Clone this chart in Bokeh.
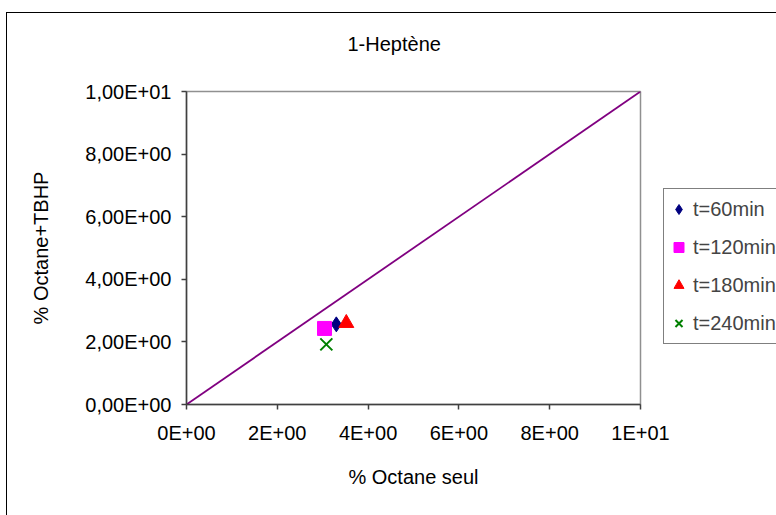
from bokeh.plotting import figure
from bokeh.models import FixedTicker, Legend, LegendItem, Range1d, Title
from bokeh.embed import file_html
from bokeh.resources import INLINE

# ---- data ----
series_names = ["t=60min", "t=120min", "t=180min", "t=240min"]
octane_seul = [3.30, 3.04, 3.52, 3.08]
octane_tbhp = [2.56, 2.43, 2.60, 1.92]
diag_x = [0, 10]
diag_y = [0, 10]
tick_values = [0, 2, 4, 6, 8, 10]
x_tick_labels = ["0E+00", "2E+00", "4E+00", "6E+00", "8E+00", "1E+01"]
y_tick_labels = ["0,00E+00", "2,00E+00", "4,00E+00", "6,00E+00", "8,00E+00", "1,00E+01"]
chart_title = "1-Heptène"

FONT = "Liberation Sans"
FS = "20px"

p = figure(frame_width=454, frame_height=313, title=None,
           min_border_left=179, min_border_top=78, min_border_right=136, min_border_bottom=111,
           x_range=Range1d(0, 10), y_range=Range1d(0, 10),
           output_backend="svg", toolbar_location=None)
p.styles = {"margin-left": "6px", "margin-top": "12px",
            "border-left": "1px solid black", "border-top": "1px solid black"}
p.background_fill_color = "white"
p.border_fill_color = "white"
p.outline_line_color = "#909090"
p.outline_line_width = 1.5
p.xgrid.visible = False
p.ygrid.visible = False

for ax in (p.xaxis[0], p.yaxis[0]):
    ax.ticker = FixedTicker(ticks=tick_values)
    ax.minor_tick_line_color = None
    ax.major_tick_in = 0
    ax.major_tick_out = 5
    ax.axis_line_color = "#404040"
    ax.axis_line_width = 1.5
    ax.major_tick_line_color = "#404040"
    ax.major_tick_line_width = 1.5
    ax.major_label_text_font = FONT
    ax.major_label_text_font_size = FS
    ax.major_label_text_color = "black"
    ax.axis_label_text_font = FONT
    ax.axis_label_text_font_size = FS
    ax.axis_label_text_font_style = "normal"
    ax.axis_label_text_color = "black"

p.xaxis[0].major_label_overrides = {v: s for v, s in zip(tick_values, x_tick_labels)}
p.yaxis[0].major_label_overrides = {v: s for v, s in zip(tick_values, y_tick_labels)}
p.xaxis[0].major_label_standoff = 12
p.yaxis[0].major_label_standoff = 10
p.xaxis[0].axis_label = "% Octane seul"
p.yaxis[0].axis_label = "% Octane+TBHP"
p.xaxis[0].axis_label_standoff = 19
p.yaxis[0].axis_label_standoff = 30

p.line(diag_x, diag_y, line_color="#800080", line_width=1.8)

markers = ["diamond", "square", "triangle", "x"]
colors = ["#000080", "#FF00FF", "#FF0000", "#008000"]
sizes = [15, 14, 15, 17]
items = []
for i in range(4):
    r = p.scatter([octane_seul[i]], [octane_tbhp[i]], marker=markers[i], size=sizes[i],
                  fill_color=colors[i], line_color=colors[i],
                  line_width=2 if markers[i] == "x" else 1)
    items.append(LegendItem(label=series_names[i], renderers=[r]))

legend = Legend(items=items, location=(23, 60), padding=2, spacing=2,
                glyph_width=25, glyph_height=36, label_height=36, label_standoff=2,
                label_text_font=FONT, label_text_font_size=FS,
                border_line_color="black", border_line_width=1,
                background_fill_color="white", margin=0)
p.add_layout(legend, "right")

# spacer between frame and title, then the title itself (outermost)
p.add_layout(Title(text=" ", text_font_size="2px", standoff=33), "above")
p.add_layout(Title(text=chart_title, align="left", offset=161, standoff=0,
                   text_font=FONT, text_font_size=FS, text_font_style="normal",
                   text_color="black"), "above")

open("out.html", "w").write(file_html(p, INLINE))
